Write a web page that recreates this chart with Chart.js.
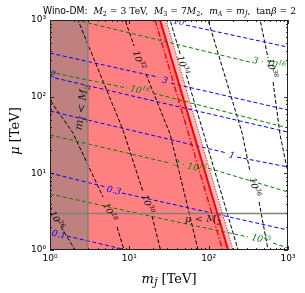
<!DOCTYPE html>
<html lang="pt-br">
<head>
<meta charset="utf-8">
<title>Wino-DM</title>
<script src="https://cdn.jsdelivr.net/npm/chart.js@4.4.1/dist/chart.umd.min.js"></script>
<style>
  html, body { margin: 0; padding: 0; background: #ffffff; }
  .grafico-container { position: relative; width: 305px; height: 293px; }
</style>
</head>
<body>
<div class="grafico-container"><canvas id="graficoWino"></canvas></div>
<script>
// --- DADOS ---
// cada curva é uma lista de pares [m_J (TeV), mu (TeV)];
// null marca onde a linha é interrompida para o rótulo

const decadas = [1, 10, 100, 1000];
const rotulosDecadas = ['10⁰', '10¹', '10²', '10³'];

// regiões sombreadas
const regiaoMJmenorM2 = [[1, 1000], [3, 1000]];
const regiaoExcluida = [[1, 1000], [24.4, 1000], [176, 1]];
const faixaIncerteza = [[1, 1000], [29, 1000], [203, 1]];

// linhas vermelhas do limite
const limiteTracoPonto = [[21.1, 1000], [150, 1]];
const limiteSolido = [[24.4, 1000], [176, 1]];
const limitePontilhado = [[29, 1000], [203, 1]];

// linhas cinzas (m_J = M2 e mu = M2)
const linhaM2 = [[3, 1], [3, 1000]];
const linhaMuM2 = [[1, 3], [1000, 3]];

// contornos azuis
const azul01 = [[1.64, 1.52], [12, 0.94]];
const azul03 = [[1, 10.1], [5.08, 6.63], null, [8.09, 5.54], [1000, 1.82]];
const azul1 = [[1, 64.9], [170.6, 18.4], null, [228, 16.3], [1000, 12.1]];
const azul2 = [[1.16, 175], [1000, 34.5]];
const azul3 = [[1, 370], [23, 180], null, [33.6, 150], [1000, 66.9]];
const azul10 = [[51.9, 858], [1000, 443]];

// contornos verdes
const verde3e16 = [[1, 1210], [333, 282]];
const verde1e16 = [[1, 209], [9.35, 129.5], null, [19.9, 111.4], [1000, 39]];
const verde3e15 = [[1, 31.6], [32.6, 13.6], null, [98.2, 11.7], [1000, 5.71]];
const verde1e15 = [[1, 5.37], [30.8, 2.46], [314, 1.48], null, [649, 1.23], [1000, 1.06]];

// contornos pretos
const preto26 = [[1, 3.75], [1.06, 3.32], null, [1.38, 2.0], [2.07, 1], [2.37, 0.79]];
const preto28 = [[0.75, 137], [1, 90.3], [1.95, 33.5], [4.66, 4.91], null, [7.0, 2.0], [8.57, 1], [9.17, 0.8]];
const preto30 = [[1.74, 1350], [2.25, 1000], [8.33, 36.7], [14.9, 5.71], null, [19.3, 2.77], [24.4, 1.06], [25.5, 0.8]];
const preto32 = [[8.0, 1350], [8.83, 1000], [11.5, 457], null, [16.2, 197], [32.6, 32.5], [73.5, 1], [78.8, 0.74]];
const preto34 = [[29.9, 1350], [32.6, 1000], [44.1, 349], null, [52.3, 191], [235, 1], [256, 0.74]];
const preto36 = [[90.1, 1350], [98.3, 1000], [264, 33.5], [333, 10.4], null, [432, 4.23], [561, 1], [595, 0.74]];
const preto38 = [[420, 1350], [445, 1000], [561, 319], null, [649, 155], [795, 31.6], [1000, 10.1], [1120, 5.7]];

// rótulos: texto, m, mu, ângulo (graus), cor
const rotulos = [
    ['0.1', 1.30, 1.62, 13, '#0000ff'],
    ['0.3', 6.41, 6.06, 13, '#0000ff'],
    ['1', 197, 17.3, 13, '#0000ff'],
    ['2', 1.09, 197, 13, '#0000ff'],
    ['3', 28.2, 164, 13, '#0000ff'],
    ['10', 42.4, 968, 12, '#0000ff'],
    ['10^{16}', 13.6, 122, 13, '#008000'],
    ['3 · 10^{16}', 578, 274, 12, '#008000'],
    ['3 · 10^{15}', 58.3, 12.45, 13, '#008000'],
    ['10^{15}', 458, 1.39, 14, '#008000'],
    ['10^{26}', 1.22, 2.46, 61, '#000000'],
    ['10^{28}', 5.71, 3.13, 65, '#000000'],
    ['10^{30}', 17.2, 3.98, 72, '#000000'],
    ['10^{32}', 13.3, 300, 70, '#000000'],
    ['10^{34}', 47.6, 258, 73, '#000000'],
    ['10^{36}', 385, 6.63, 76, '#000000'],
    ['10^{38}', 631, 236, 80, '#000000'],
    ['m_{J̃} < M_{2}', 2.46, 73, -82, '#222222', 11],
    ['μ < M_{2}', 85, 2.54, 0, '#222222', 10]
];

// --- FUNÇÕES AUXILIARES ---
const xy = pts => pts.map(p => ({ x: p[0], y: p[1] }));

function segmentos(pontos) {
    const partes = [[]];
    pontos.forEach(p => p ? partes[partes.length - 1].push({ x: p[0], y: p[1] }) : partes.push([]));
    return partes;
}

function linhas(pontos, cor, traco, largura) {
    return segmentos(pontos).map(seg => ({
        data: seg,
        borderColor: cor,
        borderDash: traco,
        borderWidth: largura,
        fill: false,
        order: 0
    }));
}

function preenchimento(pontos, cor, ordem) {
    return { data: xy(pontos), fill: 'start', backgroundColor: cor, borderWidth: 0, order: ordem };
}

// "10^{34}" -> partes normais / sobrescritas / subscritas
function partesRicas(txt) {
    const out = [];
    const re = /([\^_])\{([^}]*)\}/g;
    let i = 0, m;
    while ((m = re.exec(txt))) {
        if (m.index > i) out.push({ t: txt.slice(i, m.index), n: 0 });
        out.push({ t: m[2], n: m[1] === '^' ? 1 : -1 });
        i = re.lastIndex;
    }
    if (i < txt.length) out.push({ t: txt.slice(i), n: 0 });
    return out;
}

function desenharRico(ctx, txt, px, py, ang, cor, tam) {
    const partes = partesRicas(txt);
    const fonte = n => `italic ${n ? tam * 0.7 : tam}px "DejaVu Serif"`;
    let larg = 0;
    partes.forEach(p => { ctx.font = fonte(p.n); p.w = ctx.measureText(p.t).width; larg += p.w; });
    ctx.save();
    ctx.translate(px, py);
    ctx.rotate(ang * Math.PI / 180);
    ctx.fillStyle = cor;
    ctx.textBaseline = 'alphabetic';
    let cx = -larg / 2;
    partes.forEach(p => {
        ctx.font = fonte(p.n);
        const dy = p.n > 0 ? -tam * 0.42 : (p.n < 0 ? tam * 0.25 : 0);
        ctx.fillText(p.t, cx, tam * 0.35 + dy);
        cx += p.w;
    });
    ctx.restore();
}

// segmentos com fonte própria: [texto, fonte, deslocamento vertical]
function desenharSegmentos(ctx, segs, x0, y0, largAlvo, centro) {
    let larg = 0;
    segs.forEach(s => { ctx.font = s[1]; larg += ctx.measureText(s[0]).width; });
    const esc = largAlvo ? largAlvo / larg : 1;
    ctx.save();
    ctx.translate(centro ? x0 - larg * esc / 2 : x0, y0);
    ctx.scale(esc, 1);
    ctx.fillStyle = '#000';
    ctx.textBaseline = 'alphabetic';
    let cx = 0;
    segs.forEach(s => {
        ctx.font = s[1];
        ctx.fillText(s[0], cx, s[2]);
        cx += ctx.measureText(s[0]).width;
    });
    ctx.restore();
}

// --- PLUGIN: rótulos, moldura, ticks internos e títulos ---
const pluginExtras = {
    id: 'extras',
    afterDatasetsDraw(chart) {
        const { ctx, chartArea: a, scales: { x, y } } = chart;

        ctx.save();
        ctx.beginPath();
        ctx.rect(a.left, a.top, a.right - a.left, a.bottom - a.top);
        ctx.clip();
        rotulos.forEach(([txt, m, mu, ang, cor, tam]) =>
            desenharRico(ctx, txt, x.getPixelForValue(m), y.getPixelForValue(mu), ang, cor, tam || 9));
        ctx.restore();

        // ticks para dentro nos quatro lados
        ctx.save();
        ctx.strokeStyle = '#000';
        ctx.lineWidth = 0.8;
        ctx.beginPath();
        decadas.forEach(d => {
            for (let k = 1; k <= 9; k++) {
                const v = d * k;
                if (v > 1000) break;
                const comp = k === 1 ? 4 : 2;
                const px = Math.round(x.getPixelForValue(v)) + 0.5;
                const py = Math.round(y.getPixelForValue(v)) + 0.5;
                ctx.moveTo(px, a.bottom); ctx.lineTo(px, a.bottom - comp);
                ctx.moveTo(px, a.top); ctx.lineTo(px, a.top + comp);
                ctx.moveTo(a.left, py); ctx.lineTo(a.left + comp, py);
                ctx.moveTo(a.right, py); ctx.lineTo(a.right - comp, py);
            }
        });
        ctx.stroke();
        ctx.lineWidth = 1;
        ctx.strokeStyle = '#222';
        ctx.strokeRect(a.left + 0.5, a.top + 0.5, a.right - a.left - 1, a.bottom - a.top - 1);
        ctx.restore();
    },
    afterDraw(chart) {
        const { ctx } = chart;
        const sans = '10px "DejaVu Sans"';
        const it = 'italic 10px "DejaVu Serif"';
        const rm = '10px "DejaVu Serif"';
        const subIt = 'italic 7px "DejaVu Serif"';
        const subRm = '7px "DejaVu Serif"';
        desenharSegmentos(ctx, [
            ['Wino-DM:', sans, 0],
            ['  M', it, 0], ['2', subRm, 2], [' = 3 TeV,  ', rm, 0],
            ['M', it, 0], ['3', subRm, 2], [' = 7', rm, 0], ['M', it, 0], ['2', subRm, 2], [',  ', rm, 0],
            ['m', it, 0], ['A', subIt, 2], [' = ', rm, 0], ['m', it, 0], ['J̃', subIt, 2],
            [',  tan', rm, 0], ['β', it, 0], [' = 2', rm, 0]
        ], 43, 14, 253, false);

        // rótulo do eixo x
        desenharSegmentos(ctx, [
            ['m', 'italic 13px "DejaVu Serif"', 0],
            ['J̃', 'italic 9px "DejaVu Serif"', 3],
            [' [TeV]', '13px "DejaVu Serif"', 0]
        ], 169, 283, 0, true);

        // rótulo do eixo y
        ctx.save();
        ctx.translate(19, 131);
        ctx.rotate(-Math.PI / 2);
        desenharSegmentos(ctx, [
            ['μ', 'italic 13px "DejaVu Serif"', 0],
            [' [TeV]', '13px "DejaVu Serif"', 0]
        ], 0, 0, 0, true);
        ctx.restore();
    }
};

// --- MONTAGEM DOS DATASETS ---
const datasets = [
    ...linhas(limiteTracoPonto, '#ff0000', [6, 2, 1.5, 2], 1.4),
    ...linhas(limiteSolido, '#ff0000', [], 2),
    ...linhas(limitePontilhado, '#ff0000', [1.2, 1.5], 1),
    ...linhas(linhaM2, '#808080', [], 1.5),
    ...linhas(linhaMuM2, '#808080', [], 1.5),
    ...[azul01, azul03, azul1, azul2, azul3, azul10].flatMap(c => linhas(c, '#0000ff', [4, 2.5], 1)),
    ...[verde3e16, verde1e16, verde3e15, verde1e15].flatMap(c => linhas(c, '#008000', [4, 2.5], 1)),
    ...[preto26, preto28, preto30, preto32, preto34, preto36, preto38].flatMap(c => linhas(c, '#000000', [4, 2], 1)),
    preenchimento(regiaoMJmenorM2, '#bf8080', 10),
    preenchimento(regiaoExcluida, '#ff8080', 11),
    preenchimento(faixaIncerteza, '#ffbcbc', 12)
];

const escalaLog = (lado) => ({
    type: 'logarithmic',
    min: 1,
    max: 1000,
    afterFit: s => { if (lado === 'x') s.height = 43; else s.width = 50; },
    afterBuildTicks: s => { s.ticks = decadas.map(v => ({ value: v })); },
    ticks: {
        callback: v => rotulosDecadas[decadas.indexOf(v)],
        autoSkip: false,
        maxRotation: 0,
        padding: lado === 'x' ? 3 : 4,
        color: '#000',
        font: { family: 'DejaVu Sans', size: 9 }
    },
    grid: { display: false, drawTicks: false },
    border: { display: false }
});

document.addEventListener('DOMContentLoaded', () => {
    const ctxGrafico = document.getElementById('graficoWino');
    new Chart(ctxGrafico, {
        type: 'line',
        data: { datasets },
        options: {
            responsive: true,
            maintainAspectRatio: false,
            animation: false,
            events: [],
            layout: { padding: { top: 20, right: 17, left: 0, bottom: 0 } },
            elements: { point: { radius: 0 }, line: { tension: 0 } },
            datasets: { line: { clip: 0 } },
            plugins: { legend: { display: false }, tooltip: { enabled: false } },
            scales: { x: escalaLog('x'), y: escalaLog('y') }
        },
        plugins: [pluginExtras]
    });
});
</script>
</body>
</html>
